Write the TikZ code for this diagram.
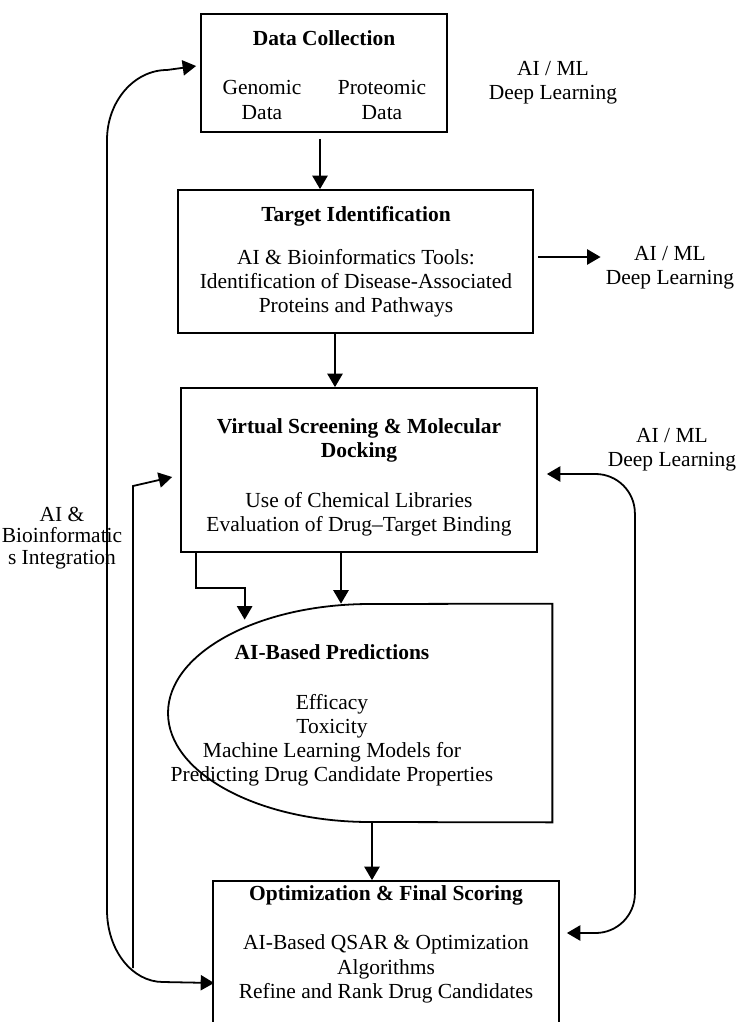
\documentclass[tikz,border=0pt]{standalone}
\usepackage{fontspec}
\setmainfont{Liberation Serif}
\usetikzlibrary{arrows.meta,calc,fit}
\begin{document}
\begin{tikzpicture}[x=0.559pt, y=-0.559pt,
  every node/.style={font=\fontsize{12}{13.5}\selectfont, inner sep=0pt, align=center},
  box/.style={draw, line width=1pt, rectangle, inner sep=0pt},
  area/.style={rectangle, inner sep=0pt},
  ttl/.style={font=\fontsize{12}{13.5}\selectfont\bfseries},
  lnk/.style={line width=1pt, -{Triangle[length=7.5pt,width=8.5pt]}},
  dlnk/.style={line width=1pt, {Triangle[length=7.5pt,width=8.5pt]}-{Triangle[length=7.5pt,width=8.5pt]}}]

\useasboundingbox (0,0) rectangle (739,1022);
\clip (0,0) rectangle (739,1022);

% ---- boxes ----
\node[box, fit={(201,14) (447,132)}] (dc) {};
\node[box, fit={(178,190) (533,333)}] (ti) {};
\node[box, fit={(181,388) (537,552)}] (vs) {};
\node[area, fit={(168,604) (552,822)}] (pred) {};
\draw[line width=1pt] (pred.north east) -- (370,604)
  arc[start angle=270, end angle=90, x radius=202, y radius=109]
  -- (pred.south east) -- cycle;
\node[box, fit={(213,881) (559,1040)}] (opt) {};

% ---- texts inside the boxes ----
\node[ttl] (dct) at (324,38) {Data Collection};
\node (gen) at (262,100) {Genomic\\Data};
\node (prot) at (382,100) {Proteomic\\Data};

\node[ttl] (tit) at (356,216) {Target Identification};
\node (tib) at (356,283) {AI \& Bioinformatics Tools:\\Identification of Disease-Associated\\Proteins and Pathways};

\node[ttl] (vst) at (359,440) {Virtual Screening \& Molecular\\Docking};
\node (vsb) at (359,514) {Use of Chemical Libraries\\Evaluation of Drug--Target Binding};

\node[ttl] (prt) at (332,652) {AI-Based Predictions};
\node (prb) at (332,740) {Efficacy\\Toxicity\\Machine Learning Models for\\Predicting Drug Candidate Properties};

\node[ttl] (opt-t) at (386,895) {Optimization \& Final Scoring};
\node (opt-b) at (386,969) {AI-Based QSAR \& Optimization\\Algorithms\\Refine and Rank Drug Candidates};

% ---- side labels ----
\node (ml1) at (553,83) {AI / ML\\Deep Learning};
\node (ml2) at (670,268) {AI / ML\\Deep Learning};
\node (ml3) at (672,450) {AI / ML\\Deep Learning};
\node[font=\fontsize{12}{12}\selectfont] (integ) at (62,538) {AI \&\\Bioinformatic\\s Integration};

% ---- main flow ----
\draw[lnk] ($(dc.south)+(-4,6)$) -- ($(ti.north)+(-35.5,0)$);
\draw[lnk] ($(ti.south)+(-20.5,0)$) -- ($(vs.north)+(-24,0)$);
\draw[lnk] ($(ti.east)+(4,-4.5)$) -- ($(ti.east -| ml2.west)+(-5,-4.5)$);
\draw[lnk] ($(vs.south west)+(16,0)$) -- ++(0,35) -| ($(pred.north west)+(77,16)$);
\draw[lnk] ($(vs.south)+(-18,0)$) -- ($(pred.north)+(-19,0)$);
\draw[lnk] ($(pred.south)+(12,0)$) -- ($(opt.north)+(-14,0)$);

% ---- feedback loops ----
\draw[dlnk, rounded corners=22pt] ($(vs.east)+(9,4)$) -| ($(opt.east)+(75,-27.5)$) -- ($(opt.east)+(7,-27.5)$);

\draw[dlnk] ($(opt.west)+(2,22.5)$) -- (163,982)
  .. controls (132,982) and (107,950) .. (107,910)
  -- (107,140)
  .. controls (107,101.5) and (134,70) .. (167,70)
  -- ($(dc.west)+(-4,-7)$);

\coordinate (join) at (133,968);
\draw[lnk] (join) -- (133,486) -- ($(vs.west)+(-8,7)$);

\end{tikzpicture}
\end{document}
